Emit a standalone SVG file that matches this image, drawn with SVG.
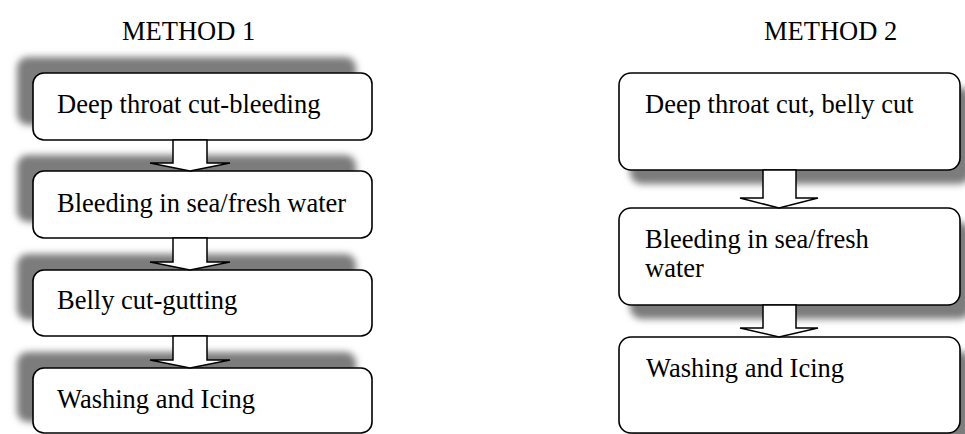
<svg xmlns="http://www.w3.org/2000/svg" width="965" height="434" viewBox="0 0 965 434">
  <defs>
    <filter id="soft" x="-20%" y="-40%" width="140%" height="180%">
      <feGaussianBlur stdDeviation="3.5"/>
    </filter>
    <style>
      .shadow { fill: #7c7c7c; filter: url(#soft); }
      .box { fill: #ffffff; stroke: #000000; stroke-width: 1.6; }
      .arrow { fill: #ffffff; stroke: #000000; stroke-width: 1.5; stroke-linejoin: miter; }
    </style>
  </defs>

  <rect width="965" height="434" fill="#ffffff"/>

  <!-- shadows: method 1 cast up-left, method 2 cast down-right -->
  <g id="shadows">
    <rect class="shadow" x="17" y="57" width="339" height="68" rx="11"/>
    <rect class="shadow" x="17" y="155" width="339" height="67" rx="11"/>
    <rect class="shadow" x="17" y="254" width="339" height="66" rx="11"/>
    <rect class="shadow" x="17" y="352" width="339" height="70" rx="11"/>
    <rect class="shadow" x="630" y="87" width="341" height="97" rx="12"/>
    <rect class="shadow" x="630" y="222" width="341" height="97" rx="12"/>
    <rect class="shadow" x="630" y="351" width="341" height="97" rx="12"/>
  </g>

  <g font-family="'Liberation Serif', 'Times New Roman', serif" font-size="26.5" fill="#000000">
    <!-- column headings -->
    <g id="heading-method-1"><text x="122" y="40">METHOD 1</text></g>
    <g id="heading-method-2"><text x="764" y="40">METHOD 2</text></g>

    <!-- method 1 steps -->
    <g id="m1-throat-cut">
      <rect class="box" x="33" y="73" width="339" height="67" rx="11"/>
      <text x="57" y="113">Deep throat cut-bleeding</text>
    </g>
    <g id="m1-bleeding">
      <rect class="box" x="33" y="171" width="339" height="67" rx="11"/>
      <text x="57" y="212">Bleeding in sea/fresh water</text>
    </g>
    <g id="m1-gutting">
      <rect class="box" x="33" y="270" width="339" height="66" rx="11"/>
      <text x="57" y="309">Belly cut-gutting</text>
    </g>
    <g id="m1-washing">
      <rect class="box" x="33" y="368" width="339" height="65" rx="11"/>
      <text x="57" y="408">Washing and Icing</text>
    </g>

    <!-- method 2 steps -->
    <g id="m2-throat-belly-cut">
      <rect class="box" x="619" y="73" width="341" height="97" rx="12"/>
      <text x="645" y="113">Deep throat cut, belly cut</text>
    </g>
    <g id="m2-bleeding">
      <rect class="box" x="619" y="208" width="341" height="97" rx="12"/>
      <text x="645" y="248">Bleeding in sea/fresh</text>
      <text x="645" y="277">water</text>
    </g>
    <g id="m2-washing">
      <rect class="box" x="619" y="337" width="341" height="96" rx="12"/>
      <text x="646" y="377">Washing and Icing</text>
    </g>
  </g>

  <!-- block arrows between steps -->
  <g id="connectors">
    <polygon class="arrow" points="173,140 207,140 207,163 230,163 190,171 150,163 173,163"/>
    <polygon class="arrow" points="173,238 207,238 207,262 230,262 190,270 150,262 173,262"/>
    <polygon class="arrow" points="173,336 207,336 207,360 230,360 190,368 150,360 173,360"/>
    <polygon class="arrow" points="763,170 796,170 796,198 818,198 779,208 740,198 763,198"/>
    <polygon class="arrow" points="763,305 796,305 796,328 818,328 779,337 740,328 763,328"/>
  </g>
</svg>
